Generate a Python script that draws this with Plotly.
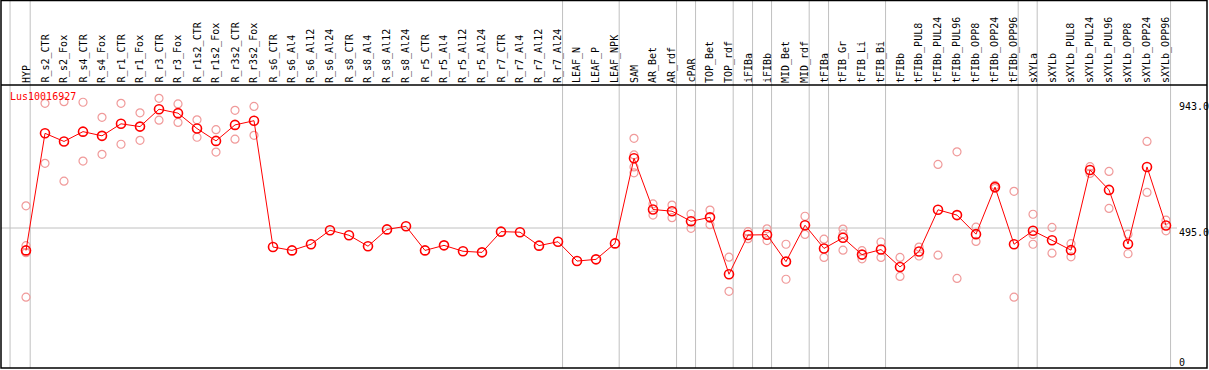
import plotly.graph_objects as go

# ---------------- data ----------------
categories = [
    "HYP", "R_s2_CTR", "R_s2_Fox", "R_s4_CTR", "R_s4_Fox", "R_r1_CTR", "R_r1_Fox",
    "R_r3_CTR", "R_r3_Fox", "R_r1s2_CTR", "R_r1s2_Fox", "R_r3s2_CTR", "R_r3s2_Fox",
    "R_s6_CTR", "R_s6_Al4", "R_s6_Al12", "R_s6_Al24", "R_s8_CTR", "R_s8_Al4",
    "R_s8_Al12", "R_s8_Al24", "R_r5_CTR", "R_r5_Al4", "R_r5_Al12", "R_r5_Al24",
    "R_r7_CTR", "R_r7_Al4", "R_r7_Al12", "R_r7_Al24", "LEAF_N", "LEAF_P", "LEAF_NPK",
    "SAM", "AR_Bet", "AR_rdf", "cPAR", "TOP_Bet", "TOP_rdf", "iFIBa", "iFIBb",
    "MID_Bet", "MID_rdf", "tFIBa", "tFIB_Gr", "tFIB_Li", "tFIB_Bi", "tFIBb",
    "tFIBb_PUL8", "tFIBb_PUL24", "tFIBb_PUL96", "tFIBb_OPP8", "tFIBb_OPP24",
    "tFIBb_OPP96", "sXYLa", "sXYLb", "sXYLb_PUL8", "sXYLb_PUL24", "sXYLb_PUL96",
    "sXYLb_OPP8", "sXYLb_OPP24", "sXYLb_OPP96",
]

mean_values = [
    415, 833, 804, 839, 824, 867, 857, 919, 905, 850, 806, 863, 878,
    427, 415, 437, 487, 469, 430, 490, 501, 415, 433, 412, 408, 482, 480, 432, 446,
    377, 383, 440,
    744, 561, 555, 519, 533, 330, 470, 471, 375, 505, 422, 460, 400, 418, 356,
    411, 560, 541, 473, 641, 437, 485, 451, 416, 702, 631, 438, 713, 504,
]

N = None
rep1 = [574, 940, 946, 944, 890, 940, 906, 958, 938, 881, 846, 915, 929,
        N, N, N, N, N, N, N, N, N, N, N, N, N, N, N, N, N, N, N,
        815, 581, 577, 545, 559, 391, 482, 492, 437, 537, 455, 491, 414, 445, 390,
        427, 722, 767, 498, 647, 626, 544, 497, 439, 714, 697, 473, 804, 523]
rep2 = [432, 726, 662, 734, 758, 794, 808, 880, 872, 819, 766, 812, 826,
        N, N, N, N, N, N, N, N, N, N, N, N, N, N, N, N, N, N, N,
        756, 541, 532, 494, 507, 269, 457, 450, 312, 472, 390, 474, 385, 390, 322,
        395, 398, 315, 447, 636, 248, 472, 405, 392, 690, 565, 403, 622, 485]
rep3 = [407, N, N, N, N, N, N, N, N, N, N, N, N,
        N, N, N, N, N, N, N, N, N, N, N, N, N, N, N, N, N, N, N,
        713, N, N, N, N, N, N, N, N, N, N, 416, N, N, N,
        N, N, N, N, N, N, 437, N, N, N, N, N, N, N]
rep4 = [248, N, N, N, N, N, N, N, N, N, N, N, N,
        N, N, N, N, N, N, N, N, N, N, N, N, N, N, N, N, N, N, N,
        692, N, N, N, N, N, N, N, N, N, N, N, N, N, N,
        N, N, N, N, N, N, N, N, N, N, N, N, N, N]

gene_name = "Lus10016927"
right_tick_values = [943.0, 495.0, 0]
right_tick_labels = ["943.0", "495.0", "0"]
reference_line_value = 495.0
# group separators (category-index units)
separators = [-0.84, 0.22, 28.24, 31.22, 34.24, 35.24, 37.22, 38.24, 39.24,
              41.22, 42.24, 45.24, 52.22, 53.22, 60.24]

# ---------------- figure ----------------
W, H = 1209, 370
ML, MR, MT, MB = 1, 2, 85, 2
plot_w = W - ML - MR
plot_h = H - MT - MB
px_per_cat = 19.0
x_lo = -25.0 / px_per_cat
x_hi = x_lo + plot_w / px_per_cat
y_lo, y_hi = -4.8, 1005.5

xs = list(range(len(categories)))
mono = "DejaVu Sans Mono"

fig = go.Figure()
for reps in (rep1, rep2, rep3, rep4):
    fig.add_trace(go.Scatter(
        x=xs, y=reps, mode="markers",
        marker=dict(symbol="circle-open", size=8, color="#F09A9A",
                    line=dict(width=1.2, color="#F09A9A")),
        hoverinfo="skip", showlegend=False,
    ))
fig.add_trace(go.Scatter(
    x=xs, y=mean_values, mode="lines+markers",
    line=dict(color="#FF0000", width=1),
    marker=dict(symbol="circle-open", size=9, color="#FF0000",
                line=dict(width=1.6, color="#FF0000")),
    showlegend=False,
))

shapes = []
top_paper = 1 + MT / plot_h
for s in separators:
    shapes.append(dict(type="line", xref="x", yref="paper", x0=s, x1=s,
                       y0=0, y1=top_paper, line=dict(color="#C0C0C0", width=1),
                       layer="below"))
# reference line
shapes.append(dict(type="line", xref="paper", yref="y", x0=0,
                   x1=(1177 - ML) / plot_w, y0=reference_line_value,
                   y1=reference_line_value, line=dict(color="#C0C0C0", width=1),
                   layer="below"))
# header separator and frame
shapes.append(dict(type="line", xref="paper", yref="paper", x0=0, x1=1, y0=1, y1=1,
                   line=dict(color="black", width=1.5)))
shapes.append(dict(type="rect", xref="paper", yref="paper", x0=0, x1=1,
                   y0=0, y1=top_paper - 0.5 / plot_h, line=dict(color="black", width=1.5)))

annotations = []
for i, c in enumerate(categories):
    annotations.append(dict(x=i, y=1, xref="x", yref="paper", text=c,
                            textangle=-90, showarrow=False, xanchor="center",
                            yanchor="bottom", yshift=0,
                            font=dict(family=mono, size=10, color="black")))
for v, t in zip(right_tick_values, right_tick_labels):
    annotations.append(dict(x=(1177 - ML) / plot_w, y=v, xref="paper", yref="y",
                            text=t, showarrow=False, xanchor="left",
                            yanchor="middle", yshift=(-4 if v != 0 else 4.5),
                            font=dict(family=mono, size=10, color="black")))
annotations.append(dict(x=(8 - ML) / plot_w, y=(H - MB - 97) / plot_h,
                        xref="paper", yref="paper", text=gene_name,
                        showarrow=False, xanchor="left", yanchor="middle",
                        font=dict(family=mono, size=10, color="#FF0000")))

fig.update_layout(
    width=W, height=H,
    margin=dict(l=ML, r=MR, t=MT, b=MB, pad=0),
    paper_bgcolor="white", plot_bgcolor="white",
    xaxis=dict(range=[x_lo, x_hi], visible=False, fixedrange=True),
    yaxis=dict(range=[y_lo, y_hi], visible=False, fixedrange=True),
    shapes=shapes, annotations=annotations,
    showlegend=False,
)

fig.write_html(
    "out.html",
    config={"displayModeBar": False},
    post_script="document.body.style.margin='0';document.body.style.overflow='hidden';",
)
